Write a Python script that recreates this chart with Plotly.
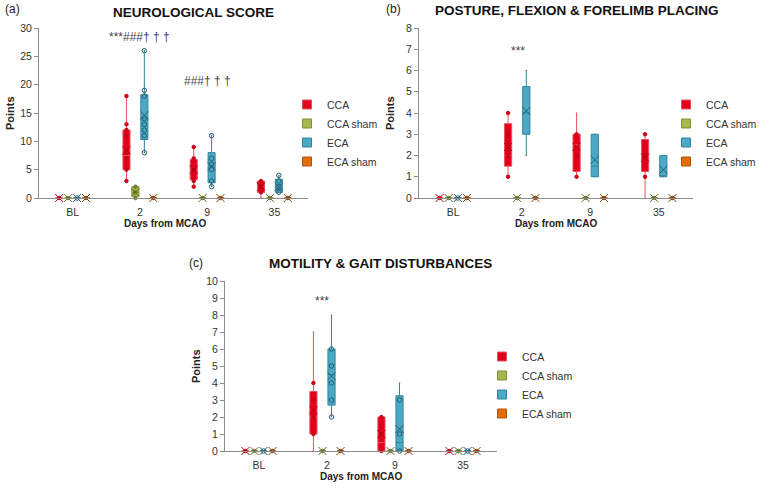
import plotly.graph_objects as go

W, H = 759, 492

days = ["BL", "2", "9", "35"]
groups = ["CCA", "CCA sham", "ECA", "ECA sham"]
fill_colors = ["#e2001a", "#a5b94c", "#4aaac5", "#e36c09"]
edge_colors = ["#e8505f", "#7f8f35", "#31849b", "#b0540a"]
mean_colors = ["#b00016", "#5f6b25", "#245f70", "#8a4208"]
point_colors = ["#cc0018", "#6f7d2c", "#245f70", "#8a4208"]

# (a) neurological score: lower whisker, q1, median, q3, upper whisker, mean per day
neuro_lo = [[0, 3, 2, 0], [0, 0, 0, 0], [0, 8, 2, 1], [0, 0, 0, 0]]
neuro_q1 = [[0, 5, 3.2, 1], [0, 0.3, 0, 0], [0, 10.3, 2.7, 1], [0, 0, 0, 0]]
neuro_med = [[0, 7.5, 5, 2], [0, 1, 0, 0], [0, 14, 5.5, 1.5], [0, 0, 0, 0]]
neuro_q3 = [[0, 12, 6.8, 3], [0, 2, 0, 0], [0, 18.2, 8, 3.3], [0, 0, 0, 0]]
neuro_hi = [[0, 18, 9, 3], [0, 2, 0, 0], [0, 26, 11, 4], [0, 0, 0, 0]]
neuro_mean = [[0, 8.4, 5, 2], [0, 1, 0, 0], [0, 14.6, 5.6, 2], [0, 0, 0, 0]]
neuro_pts = [
    [[0], [3, 5, 7, 8, 11, 12, 13, 18], [2, 3, 5, 7, 9], [1, 2, 3]],
    [[0], [0, 1, 2], [0], [0]],
    [[0], [8, 11, 12, 13, 14, 18, 19, 26], [2, 3, 5, 6, 7, 11], [1, 2, 3, 4]],
    [[0], [0], [0], [0]],
]

# (b) posture, flexion & forelimb placing
post_lo = [[0, 1, 1, 0], [0, 0, 0, 0], [0, 2, 1, 1], [0, 0, 0, 0]]
post_q1 = [[0, 1.5, 1.25, 1.25], [0, 0, 0, 0], [0, 3, 1, 1], [0, 0, 0, 0]]
post_med = [[0, 2, 2.5, 2], [0, 0, 0, 0], [0, 4, 1.5, 1], [0, 0, 0, 0]]
post_q3 = [[0, 3.5, 3, 2.75], [0, 0, 0, 0], [0, 5.25, 3, 2], [0, 0, 0, 0]]
post_hi = [[0, 4, 4, 3], [0, 0, 0, 0], [0, 6, 3, 2], [0, 0, 0, 0]]
post_mean = [[0, 2.4, 2.4, 1.9], [0, 0, 0, 0], [0, 4.1, 1.8, 1.33], [0, 0, 0, 0]]
post_pts = [
    [[0], [1, 2, 3, 4], [1, 2, 3], [1, 2, 3]],
    [[0], [0], [0], [0]],
    [[0], [], [], []],
    [[0], [0], [0], [0]],
]

# (c) motility & gait disturbances
mot_lo = [[0, 0, 0, 0], [0, 0, 0, 0], [0, 2, 0, 0], [0, 0, 0, 0]]
mot_q1 = [[0, 1, 0, 0], [0, 0, 0, 0], [0, 2.7, 0, 0], [0, 0, 0, 0]]
mot_med = [[0, 2, 0.5, 0], [0, 0, 0, 0], [0, 4.5, 0.5, 0], [0, 0, 0, 0]]
mot_q3 = [[0, 3.5, 2, 0], [0, 0, 0, 0], [0, 6, 3.25, 0], [0, 0, 0, 0]]
mot_hi = [[0, 7, 2, 0], [0, 0, 0, 0], [0, 8, 4, 0], [0, 0, 0, 0]]
mot_mean = [[0, 2.4, 1, 0], [0, 0, 0, 0], [0, 4.4, 1.3, 0], [0, 0, 0, 0]]
mot_pts = [
    [[0], [1, 2, 3, 4], [0, 1, 2], [0]],
    [[0], [0], [0], [0]],
    [[0], [2, 3, 4, 5, 6], [0, 1, 3], [0]],
    [[0], [0], [0], [0]],
]

titles = ["NEUROLOGICAL SCORE", "POSTURE, FLEXION & FORELIMB PLACING",
          "MOTILITY & GAIT DISTURBANCES"]
panel_tags = ["(a)", "(b)", "(c)"]
y_max = [30, 8, 10]
y_step = [5, 1, 1]

# panel boxes in pixels: left, right, top, bottom
panels_px = [(39, 308, 28, 198), (419, 693, 28, 198), (225, 497, 281, 451)]

SLOT = 0.133
BOXW = 0.105

fig = go.Figure()

panel_data = [
    (neuro_lo, neuro_q1, neuro_med, neuro_q3, neuro_hi, neuro_mean, neuro_pts),
    (post_lo, post_q1, post_med, post_q3, post_hi, post_mean, post_pts),
    (mot_lo, mot_q1, mot_med, mot_q3, mot_hi, mot_mean, mot_pts),
]

for p, (lo, q1, med, q3, hi, mean, pts) in enumerate(panel_data):
    xa = "x" if p == 0 else "x%d" % (p + 1)
    ya = "y" if p == 0 else "y%d" % (p + 1)
    for g in range(4):
        xs = [i + (g - 1.5) * SLOT for i in range(len(days))]
        fig.add_trace(go.Box(
            x=xs, q1=q1[g], median=med[g], q3=q3[g],
            lowerfence=lo[g], upperfence=hi[g],
            width=BOXW, whiskerwidth=0.2, boxpoints=False,
            fillcolor=fill_colors[g], line=dict(color=edge_colors[g], width=1),
            xaxis=xa, yaxis=ya, showlegend=False, hoverinfo="skip"))
        px_, py_ = [], []
        for i in range(len(days)):
            for v in pts[g][i]:
                px_.append(xs[i])
                py_.append(v)
        open_pt = g == 2
        fig.add_trace(go.Scatter(
            x=px_, y=py_, mode="markers", cliponaxis=False,
            marker=dict(size=4.5 if open_pt else 3.5,
                        symbol="circle-open" if open_pt else "circle",
                        color=point_colors[g],
                        line=dict(width=1, color=point_colors[g])),
            xaxis=xa, yaxis=ya, showlegend=False, hoverinfo="skip"))
        fig.add_trace(go.Scatter(
            x=xs, y=mean[g], mode="markers", cliponaxis=False,
            marker=dict(size=8, symbol="x-thin",
                        line=dict(width=1, color=mean_colors[g])),
            xaxis=xa, yaxis=ya, showlegend=False, hoverinfo="skip"))
    # legend swatches
    lg = "legend" if p == 0 else "legend%d" % (p + 1)
    for g in range(4):
        fig.add_trace(go.Scatter(
            x=[None], y=[None], mode="markers", name=groups[g],
            marker=dict(symbol="square", size=9, color=fill_colors[g],
                        line=dict(width=1, color=edge_colors[g])),
            xaxis=xa, yaxis=ya, legend=lg))

font = "Liberation Sans, Arial, sans-serif"
layout = dict(
    width=W, height=H, margin=dict(l=0, r=0, t=0, b=0, autoexpand=False),
    paper_bgcolor="white", plot_bgcolor="white",
    font=dict(family=font, size=11, color="#333333"),
    showlegend=True,
)


def paper_note(text, x, y, size, color="#222222", **kw):
    d = dict(text=text, xref="paper", yref="paper", x=x / W, y=1 - y / H,
             xanchor="center", yanchor="middle", showarrow=False,
             font=dict(size=size, color=color))
    d.update(kw)
    return d


annotations = []
for p, (l, r, t, b) in enumerate(panels_px):
    sx = "" if p == 0 else str(p + 1)
    layout["xaxis" + sx] = dict(
        domain=[l / W, r / W], anchor="y" + sx, range=[-0.5, 3.5],
        tickvals=list(range(len(days))), ticktext=days,
        showline=True, linecolor="#8c8c8c", linewidth=1,
        ticks="outside", ticklen=4, tickcolor="rgba(0,0,0,0)",
        showgrid=False, zeroline=False, tickfont=dict(size=10.5, color="#333333"))
    layout["yaxis" + sx] = dict(
        domain=[1 - b / H, 1 - t / H], anchor="x" + sx, range=[0, y_max[p]],
        dtick=y_step[p], showline=True, linecolor="#8c8c8c", linewidth=1,
        ticks="outside", ticklen=4, tickcolor="#8c8c8c",
        showgrid=False, zeroline=False, tickfont=dict(size=10.5, color="#333333"))
    annotations.append(paper_note("<b>Points</b>", l - 29, (t + b) / 2, 11,
                                  textangle=-90))

# titles, tags and axis titles placed to match the figure
title_pos = [(193, 12), (577, 11), (380, 263)]
tag_pos = [(3, 9), (384, 9), (187, 263)]
xtitle_pos = [(165, 223), (556, 223), (361, 476)]
for p in range(3):
    annotations.append(paper_note("<b>%s</b>" % titles[p], title_pos[p][0],
                                  title_pos[p][1], 13.5, "#111111"))
    annotations.append(paper_note(panel_tags[p], tag_pos[p][0], tag_pos[p][1], 12,
                                  xanchor="left"))
    annotations.append(paper_note("<b>Days from MCAO</b>", xtitle_pos[p][0],
                                  xtitle_pos[p][1], 10))

# significance marks
sig = dict(showarrow=False, xanchor="center", yanchor="middle",
           font=dict(size=12, color="#444444"))
annotations += [
    dict(text="***###† † †", x=1, y=28.4, xref="x", yref="y", **sig),
    dict(text="###† † †", x=2, y=20.6, xref="x", yref="y", **sig),
    dict(text="***", x=0.95, y=6.9, xref="x2", yref="y2", **sig),
    dict(text="***", x=0.93, y=8.8, xref="x3", yref="y3", **sig),
]
layout["annotations"] = annotations

legend_pos = [(287, 90), (666, 90), (482, 342)]
for p in range(3):
    key = "legend" if p == 0 else "legend%d" % (p + 1)
    layout[key] = dict(x=legend_pos[p][0] / W, y=1 - legend_pos[p][1] / H,
                       xanchor="left", yanchor="top", bgcolor="rgba(0,0,0,0)",
                       font=dict(size=10.5, color="#333333"), itemwidth=30,
                       tracegroupgap=0)

fig.update_layout(**layout)
fig.write_html("out.html", config={"displayModeBar": False},
               post_script="document.body.style.margin='0';")
